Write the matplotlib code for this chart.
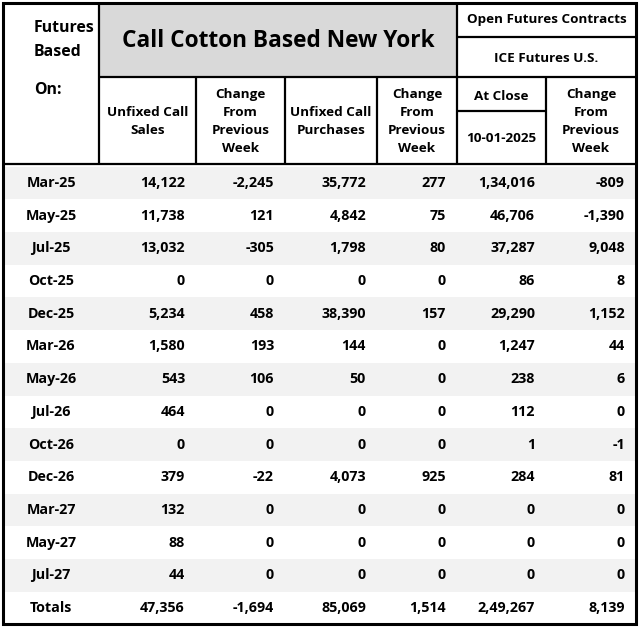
import matplotlib
matplotlib.use("Agg")
import matplotlib.pyplot as plt
from matplotlib.patches import Rectangle

plt.rcParams['font.family'] = ['Open Sans', 'DejaVu Sans']

months = ["Mar-25", "May-25", "Jul-25", "Oct-25", "Dec-25", "Mar-26", "May-26",
          "Jul-26", "Oct-26", "Dec-26", "Mar-27", "May-27", "Jul-27"]
unfixed_sales = ["14,122", "11,738", "13,032", "0", "5,234", "1,580", "543",
                 "464", "0", "379", "132", "88", "44"]
chg_sales = ["-2,245", "121", "-305", "0", "458", "193", "106",
             "0", "0", "-22", "0", "0", "0"]
unfixed_purch = ["35,772", "4,842", "1,798", "0", "38,390", "144", "50",
                 "0", "0", "4,073", "0", "0", "0"]
chg_purch = ["277", "75", "80", "0", "157", "0", "0",
             "0", "0", "925", "0", "0", "0"]
open_close = ["1,34,016", "46,706", "37,287", "86", "29,290", "1,247", "238",
              "112", "1", "284", "0", "0", "0"]
chg_open = ["-809", "-1,390", "9,048", "8", "1,152", "44", "6",
            "0", "-1", "81", "0", "0", "0"]
totals = ["Totals", "47,356", "-1,694", "85,069", "1,514", "2,49,267", "8,139"]

title = "Call Cotton Based New York"
left_header = ["Futures", "Based", "On:"]
col_headers = ["Unfixed Call\nSales", "Change\nFrom\nPrevious\nWeek",
               "Unfixed Call\nPurchases", "Change\nFrom\nPrevious\nWeek"]
open_hdr1 = "Open Futures Contracts"
open_hdr2 = "ICE Futures U.S."
at_close = "At Close"
close_date = "10-01-2025"
chg_hdr = "Change\nFrom\nPrevious\nWeek"

W, H = 639, 629
fig = plt.figure(figsize=(W / 100, H / 100), dpi=100)
ax = fig.add_axes([0, 0, 1, 1])
ax.set_xlim(0, W)
ax.set_ylim(H, 0)
ax.axis("off")

xs = [3, 99, 196, 285, 377, 457, 546, 636]
top, hdr_bot, body_bot = 3, 164, 624
row_h = 32.7
first_cy = 183

ax.add_patch(Rectangle((xs[1], top), xs[5] - xs[1], 77 - top, facecolor="#d9d9d9", edgecolor="none"))
for i in range(13):
    if i % 2 == 0:
        y0 = first_cy + (i - 0.5) * row_h
        ax.add_patch(Rectangle((xs[0], y0), xs[-1] - xs[0], row_h, facecolor="#f2f2f2", edgecolor="none"))

lc = "black"
def hline(x0, x1, y, lw=1.6):
    ax.plot([x0, x1], [y, y], color=lc, lw=lw, solid_capstyle="butt")
def vline(x, y0, y1, lw=1.6):
    ax.plot([x, x], [y0, y1], color=lc, lw=lw, solid_capstyle="butt")

ax.add_patch(Rectangle((xs[0], top), xs[-1] - xs[0], body_bot - top, facecolor="none", edgecolor=lc, lw=2.2))
hline(xs[0], xs[-1], hdr_bot)
hline(xs[1], xs[-1], 77)
hline(xs[5], xs[-1], 37)
hline(xs[5], xs[6], 111)
for x in xs[1:-1]:
    y0 = top if x in (xs[1], xs[5]) else 77
    vline(x, y0, hdr_bot)

fw = "bold"
bs = 9.7
ds = 10.3
ax.text(34, 28, left_header[0], fontsize=11.4, fontweight=fw, va="center", ha="left")
ax.text(34, 52, left_header[1], fontsize=11.4, fontweight=fw, va="center", ha="left")
ax.text(34, 90, left_header[2], fontsize=11.4, fontweight=fw, va="center", ha="left")
ax.text((xs[1] + xs[5]) / 2, 41, title, fontsize=16.3, fontweight=fw, va="center", ha="center")
ax.text((xs[5] + xs[7]) / 2, 20, open_hdr1, fontsize=bs, fontweight=fw, va="center", ha="center")
ax.text((xs[5] + xs[7]) / 2, 58, open_hdr2, fontsize=bs, fontweight=fw, va="center", ha="center")
for j, h in enumerate(col_headers):
    cx = (xs[j + 1] + xs[j + 2]) / 2
    ax.text(cx, 121.5, h, fontsize=bs, fontweight=fw, va="center", ha="center", linespacing=1.5)
ax.text((xs[5] + xs[6]) / 2, 96, at_close, fontsize=bs, fontweight=fw, va="center", ha="center")
ax.text((xs[5] + xs[6]) / 2, 138, close_date, fontsize=bs, fontweight=fw, va="center", ha="center")
ax.text((xs[6] + xs[7]) / 2, 121.5, chg_hdr, fontsize=bs, fontweight=fw, va="center", ha="center", linespacing=1.5)

cols = [unfixed_sales, chg_sales, unfixed_purch, chg_purch, open_close, chg_open]
rows = []
for i, m in enumerate(months):
    rows.append([m] + [c[i] for c in cols])
rows.append(totals)
for i, r in enumerate(rows):
    cy = first_cy + i * row_h
    ax.text(51, cy, r[0], fontsize=ds, fontweight=fw, va="center", ha="center")
    for j in range(1, 7):
        ax.text(xs[j + 1] - 11, cy, r[j], fontsize=ds, fontweight=fw, va="center", ha="right")

fig.savefig("out.png", dpi=100, facecolor="white")
